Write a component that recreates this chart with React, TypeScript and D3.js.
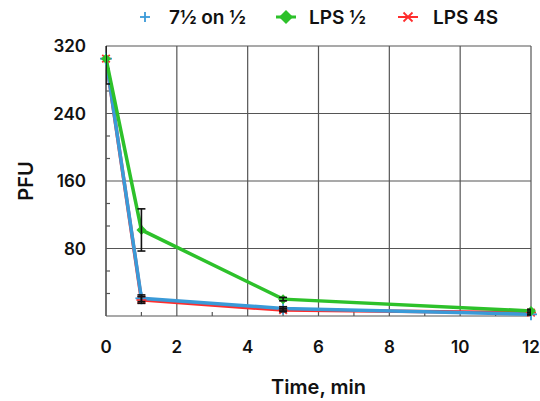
import React from 'react';
import * as d3 from 'd3';

const times = [0, 1, 5, 12];
const seriesNames = ['7½ on ½', 'LPS ½', 'LPS 4S'];
const blueVals = [305, 21, 9, 2];
const greenVals = [305, 102, 20, 6];
const redVals = [305, 19, 7, 4];
const blueErr = [0, 4, 2, 2];
const greenErr = [30, 25, 2, 2];
const redErr = [0, 4, 2, 2];
const xTicks = [0, 2, 4, 6, 8, 10, 12];
const yTicks = [80, 160, 240, 320];

const W = 540;
const H = 401;
const m = { left: 106, right: 531, top: 46, bottom: 316 };
const FONT = 'Inter, Lato, sans-serif';

const BLUE = '#3a9ad8';
const GREEN = '#2dc12a';
const RED = '#ff2d2d';

export default () => {
  const x = d3.scaleLinear().domain([0, 12]).range([m.left, m.right]);
  const y = d3.scaleLinear().domain([0, 320]).range([m.bottom, m.top]);

  const line = d3
    .line<number>()
    .x((_, i) => x(times[i]))
    .y((d) => y(d));

  const minorX = d3.range(1, 12, 2);
  const minorY = d3.range(0, 320, 80 / 3).filter((v) => v % 80 > 1 && v % 80 < 79);

  const plus = (cx: number, cy: number, s: number, c: string, k: string) => (
    <g key={k} stroke={c} strokeWidth={1.8}>
      <line x1={cx - s} x2={cx + s} y1={cy} y2={cy} />
      <line x1={cx} x2={cx} y1={cy - s} y2={cy + s} />
    </g>
  );
  const diamond = (cx: number, cy: number, s: number, c: string, k: string) => (
    <path key={k} d={`M${cx},${cy - s}L${cx + s},${cy}L${cx},${cy + s}L${cx - s},${cy}Z`} fill={c} />
  );
  const star = (cx: number, cy: number, s: number, c: string, k: string) => (
    <g key={k} stroke={c} strokeWidth={1.8}>
      <line x1={cx - s} x2={cx + s} y1={cy} y2={cy} />
      <line x1={cx - s * 0.75} x2={cx + s * 0.75} y1={cy - s * 0.75} y2={cy + s * 0.75} />
      <line x1={cx - s * 0.75} x2={cx + s * 0.75} y1={cy + s * 0.75} y2={cy - s * 0.75} />
    </g>
  );

  const errBars = (vals: number[], errs: number[], k: string) =>
    vals.map((v, i) => {
      if (!errs[i]) return null;
      const cx = x(times[i]);
      const lo = y(v - errs[i]);
      const hi = y(v + errs[i]);
      return (
        <g key={k + i} stroke="#111" strokeWidth={1.6}>
          <line x1={cx} x2={cx} y1={lo} y2={hi} />
          <line x1={cx - 4} x2={cx + 4} y1={lo} y2={lo} />
          <line x1={cx - 4} x2={cx + 4} y1={hi} y2={hi} />
        </g>
      );
    });

  return (
    <svg width={W} height={H} style={{ position: 'absolute', left: 0, top: 0 }} fontFamily={FONT}>
      <rect width={W} height={H} fill="#fff" />
      <defs>
        <clipPath id="plot">
          <rect x={m.left} y={m.top} width={m.right - m.left} height={m.bottom - m.top} />
        </clipPath>
      </defs>

      {/* grid */}
      <g stroke="#555" strokeWidth={1.2}>
        {xTicks.map((t) => (
          <line key={'gx' + t} x1={x(t)} x2={x(t)} y1={m.top} y2={m.bottom} />
        ))}
        {yTicks.map((t) => (
          <line key={'gy' + t} x1={m.left} x2={m.right} y1={y(t)} y2={y(t)} />
        ))}
        <line x1={m.left} x2={m.right} y1={m.bottom} y2={m.bottom} />
        <line x1={m.left} x2={m.left} y1={m.top} y2={m.bottom} />
        {minorX.map((t) => (
          <line key={'mx' + t} x1={x(t)} x2={x(t)} y1={m.bottom} y2={m.bottom - 4} />
        ))}
        {minorY.map((t) => (
          <line key={'my' + t} x1={m.left} x2={m.left + 4} y1={y(t)} y2={y(t)} />
        ))}
      </g>

      <path d={line(redVals) || ''} fill="none" stroke={RED} strokeWidth={3.5} />
      <path d={line(blueVals) || ''} fill="none" stroke={BLUE} strokeWidth={3.5} />
      <path d={line(greenVals) || ''} fill="none" stroke={GREEN} strokeWidth={3.5} />
      {redVals.map((v, i) => star(x(times[i]), y(v), 5, RED, 'rs' + i))}
      {blueVals.map((v, i) => plus(x(times[i]), y(v), 6, BLUE, 'bp' + i))}
      {greenVals.map((v, i) => diamond(x(times[i]), y(v), 5, GREEN, 'gd' + i))}
      <g clipPath="url(#plot)">
        {errBars(greenVals, greenErr, 'ge')}
        {errBars(blueVals, blueErr, 'be')}
        {errBars(redVals, redErr, 're')}
      </g>

      {/* axes labels */}
      <g fontSize={17} fill="#111" fontWeight={600}>
        {xTicks.map((t) => (
          <text key={'xt' + t} x={x(t)} y={353} textAnchor="middle">
            {t}
          </text>
        ))}
        {yTicks.map((t) => (
          <text key={'yt' + t} x={86} y={y(t) + 6} textAnchor="end">
            {t}
          </text>
        ))}
      </g>
      <text x={(m.left + m.right) / 2} y={394} textAnchor="middle" fontSize={20} fontWeight={600} fill="#111">
        Time, min
      </text>
      <text
        transform={`translate(33,${(m.top + m.bottom) / 2}) rotate(-90)`}
        textAnchor="middle"
        fontSize={20}
        fontWeight={600}
        fill="#111"
      >
        PFU
      </text>

      {/* legend */}
      <g fontSize={19} fontWeight={600} fill="#111">
        {plus(145, 17, 5, BLUE, 'lb')}
        <text x={169} y={24}>{seriesNames[0]}</text>
        <line x1={276} x2={296} y1={17} y2={17} stroke={GREEN} strokeWidth={3} />
        {diamond(286, 17, 7, GREEN, 'lg')}
        <text x={309} y={24}>{seriesNames[1]}</text>
        <line x1={398} x2={418} y1={17} y2={17} stroke={RED} strokeWidth={2} />
        {star(408, 17, 6, RED, 'lr')}
        <text x={433} y={24}>{seriesNames[2]}</text>
      </g>
    </svg>
  );
};
